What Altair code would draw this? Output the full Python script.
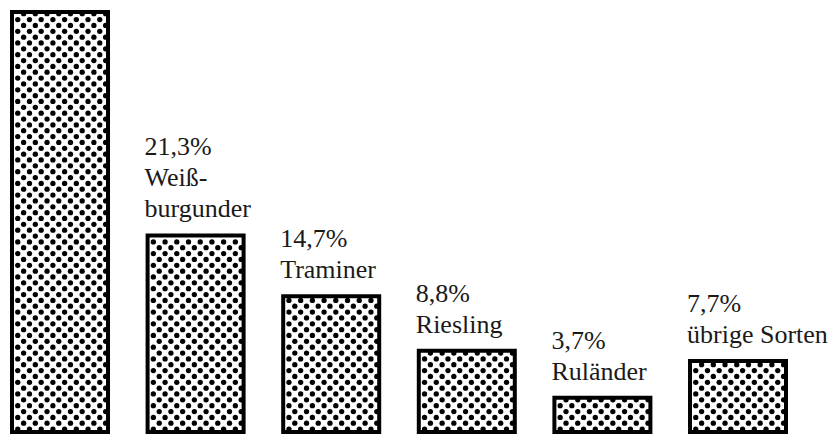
import altair as alt
import pandas as pd

# Data
categories = ["Müller-Thurgau", "Weißburgunder", "Traminer", "Riesling", "Ruländer", "übrige Sorten"]
values = [45.5, 21.3, 14.7, 8.8, 3.7, 7.7]
names = ["", "Weiß-\nburgunder", "Traminer", "Riesling", "Ruländer", "übrige Sorten"]
show_label = [False, True, True, True, True, True]

# label lines, counted from the bottom line upward
rows = []
for c, v, n, s in zip(categories, values, names, show_label):
    lines = (f"{v:.1f}".replace(".", ",") + "%\n" + n).split("\n") if s else []
    lines = lines[::-1]
    rows.append({"cat": c, "value": v,
                 "l0": lines[0] if len(lines) > 0 else "",
                 "l1": lines[1] if len(lines) > 1 else "",
                 "l2": lines[2] if len(lines) > 2 else ""})
bars = pd.DataFrame(rows)

# layout of the band scale
PAD_INNER = 0.292
BAND = 1 - PAD_INNER
N = len(categories)

# halftone dot texture filling each bar (derived from the values)
H = 420
W = 774
Y_MAX = 45.5
row_step = 5.85 / (H / Y_MAX)
col_step = 0.122
dots = []
for i, (c, v) in enumerate(zip(categories, values)):
    k = 0
    while (k + 0.5) * row_step < v - 0.15:
        y = (k + 0.5) * row_step
        off = 0.06 if k % 2 == 0 else 0.121
        while off < 0.98:
            dots.append({"cat": c, "y": y, "xpos": i + off * BAND})
            off += col_step
        k += 1
dots = pd.DataFrame(dots)

xscale = alt.Scale(type="band", domain=categories, paddingInner=PAD_INNER, paddingOuter=0)
yscale = alt.Scale(domain=[0, Y_MAX], nice=False, zero=True)

base_x = alt.X("cat:N", scale=xscale, axis=None, sort=categories)

fill = alt.Chart(bars).mark_bar(color="white").encode(
    x=base_x, y=alt.Y("value:Q", scale=yscale, axis=None)
)

dot_layer = alt.Chart(dots).mark_circle(color="black", opacity=1, size=28).encode(
    x=alt.X("xpos:Q", scale=alt.Scale(domain=[0, N - PAD_INNER], nice=False, zero=True), axis=None),
    y=alt.Y("y:Q", scale=yscale, axis=None),
)

outline = alt.Chart(bars).mark_bar(fillOpacity=0, stroke="black", strokeWidth=4).encode(
    x=base_x, y=alt.Y("value:Q", scale=yscale, axis=None)
)

LINE_H = 31
text_layers = []
for j in range(3):
    field = f"l{j}"
    text_layers.append(
        alt.Chart(bars).transform_filter(f"datum.{field} != ''").mark_text(
            align="left", baseline="alphabetic", dx=-3, dy=-18 - LINE_H * j,
            font="Liberation Serif", fontSize=26, color="#1a1a1a"
        ).encode(
            x=alt.X("cat:N", scale=xscale, axis=None, sort=categories, bandPosition=0),
            y=alt.Y("value:Q", scale=yscale, axis=None),
            text=f"{field}:N",
        )
    )

chart = alt.layer(fill, dot_layer, outline, *text_layers).resolve_scale(x="independent").properties(
    width=W, height=H, padding={"left": 2, "top": 2, "right": 0, "bottom": 2},
    background="white",
).configure_view(stroke=None)

chart.save("out.html", embed_options={"renderer": "svg", "actions": False})
